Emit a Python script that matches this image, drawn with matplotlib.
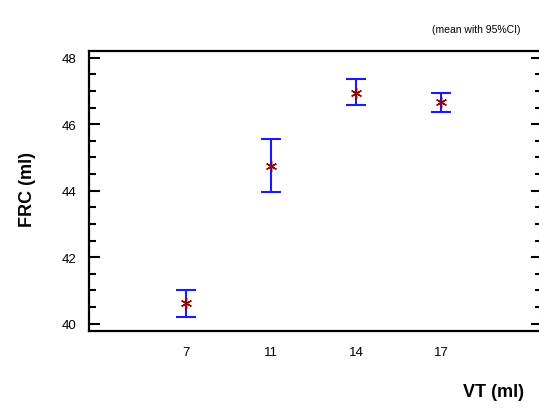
import matplotlib
matplotlib.use("Agg")
import matplotlib.pyplot as plt
from matplotlib.ticker import MultipleLocator

plt.rcParams['font.family'] = ['Liberation Sans', 'DejaVu Sans']

# FRC by tidal volume, mean with 95% confidence interval
vt_labels = ['7', '11', '14', '17']
frc_mean = [40.62, 44.73, 46.95, 46.68]
ci_low = [40.20, 43.97, 46.57, 46.38]
ci_high = [41.01, 45.55, 47.36, 46.95]

x = list(range(len(vt_labels)))
err_low = [m - lo for m, lo in zip(frc_mean, ci_low)]
err_high = [hi - m for m, hi in zip(frc_mean, ci_high)]

fig = plt.figure(figsize=(5.39, 4.10), dpi=100)
ax = fig.add_axes([89 / 539, 78 / 410, 449.5 / 539, 280 / 410])

ax.errorbar(x, frc_mean, yerr=[err_low, err_high], fmt='none',
            ecolor='#1a1aff', elinewidth=1.5, capsize=7, capthick=1.5, zorder=2)
ax.plot(x, frc_mean, linestyle='none', marker=(6, 2, 0), markersize=8,
        color='#990000', markeredgewidth=1.0, zorder=3)

ax.set_xlim(-1.141, 4.147)
ax.set_ylim(39.78, 48.2)
ax.set_xticks(x)
ax.set_xticklabels(vt_labels)
ax.yaxis.set_major_locator(MultipleLocator(2))
ax.yaxis.set_minor_locator(MultipleLocator(0.5))

for side in ['left', 'top', 'bottom']:
    ax.spines[side].set_linewidth(1.6)
ax.spines['right'].set_visible(False)

ax.tick_params(axis='x', length=0, pad=11, labelsize=9.5)
ax.tick_params(axis='y', which='major', direction='in', length=8, width=1.5,
               labelsize=9.5, pad=9)
ax.tick_params(axis='y', which='minor', direction='in', length=5, width=1.5)

# right side: thin grey spine with shorter ticks
ax_r = ax.twinx()
ax_r.set_ylim(ax.get_ylim())
ax_r.yaxis.set_major_locator(MultipleLocator(2))
ax_r.yaxis.set_minor_locator(MultipleLocator(0.5))
ax_r.tick_params(axis='y', which='major', direction='in', length=6, width=1.5,
                 labelright=False)
ax_r.tick_params(axis='y', which='minor', direction='in', length=3, width=1.5)
for side in ['left', 'top', 'bottom']:
    ax_r.spines[side].set_visible(False)
ax_r.spines['right'].set_color('#999999')
ax_r.spines['right'].set_linewidth(0.8)

fig.text(28 / 539, 1 - 190 / 410, 'FRC (ml)', rotation=90, ha='center', va='center',
         fontsize=13, fontweight='bold')
fig.text(524 / 539, 1 - 393 / 410, 'VT (ml)', ha='right', va='center',
         fontsize=13, fontweight='bold')
fig.text(520 / 539, 1 - 30 / 410, '(mean with 95%CI)', ha='right', va='center',
         fontsize=7.5)

fig.savefig('out.png', dpi=100)
